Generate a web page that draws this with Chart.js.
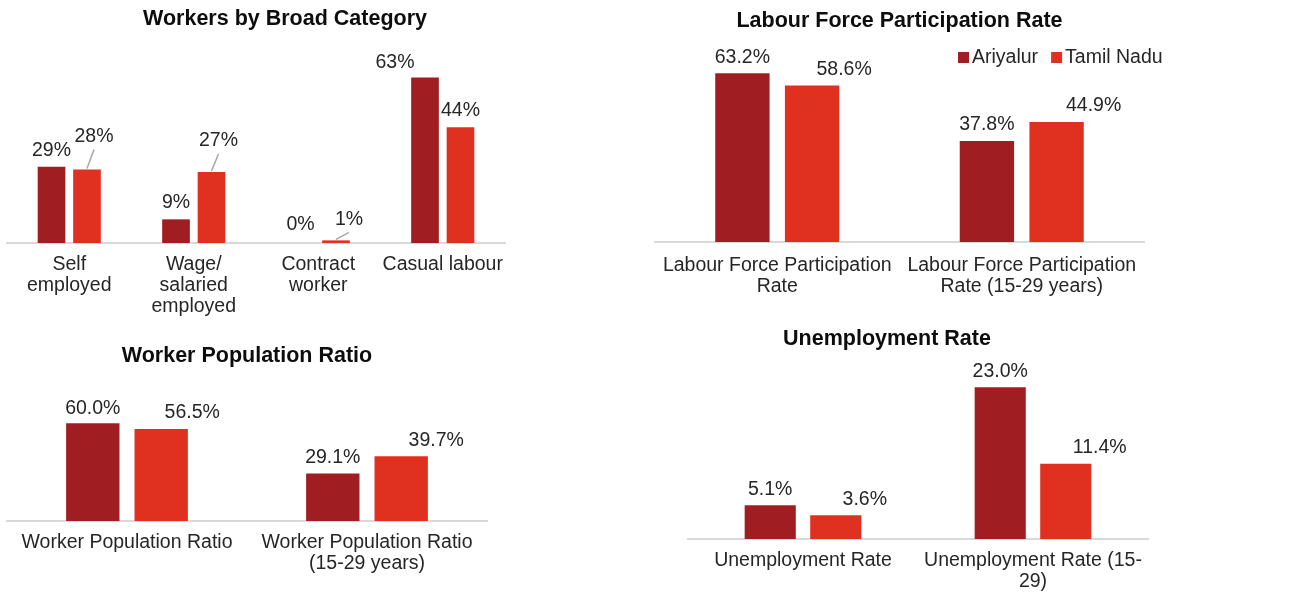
<!DOCTYPE html>
<html>
<head>
<meta charset="utf-8">
<script src="https://cdn.jsdelivr.net/npm/chart.js@4.4.1/dist/chart.umd.min.js"></script>
<style>
  body { margin: 0; background: #fff; }
  #wrap { position: relative; width: 1298px; height: 592px; overflow: hidden; }
  canvas { position: absolute; }
</style>
</head>
<body>
<div id="wrap">
  <canvas id="broad" width="520" height="322" style="left:0;top:0"></canvas>
  <canvas id="lfpr" width="658" height="312" style="left:640px;top:0"></canvas>
  <canvas id="wpr" width="520" height="261" style="left:0;top:330px"></canvas>
  <canvas id="ur" width="658" height="272" style="left:640px;top:320px"></canvas>
</div>
<script>
const seriesNames = ["Ariyalur", "Tamil Nadu"];

const broadCategories = [["Self", "employed"], ["Wage/", "salaried", "employed"], ["Contract", "worker"], "Casual labour"];
const broadAriyalur = [29, 9, 0, 63];
const broadTamilNadu = [28, 27, 1, 44];

const lfprCategories = [["Labour Force Participation", "Rate"], ["Labour Force Participation", "Rate (15-29 years)"]];
const lfprAriyalur = [63.2, 37.8];
const lfprTamilNadu = [58.6, 44.9];

const wprCategories = ["Worker Population Ratio", ["Worker Population Ratio", "(15-29 years)"]];
const wprAriyalur = [60.0, 29.1];
const wprTamilNadu = [56.5, 39.7];

const urCategories = ["Unemployment Rate", ["Unemployment Rate (15-", "29)"]];
const urAriyalur = [5.1, 23.0];
const urTamilNadu = [3.6, 11.4];

const DARK = "#a01e21";
const RED = "#e03120";
const FONT = '"Liberation Sans", Arial, sans-serif';

Chart.defaults.font.family = FONT;

// draws title, value labels (with optional leader lines) and the legend
const annotate = {
  id: "annotate",
  afterDraw(chart, args, opts) {
    const ctx = chart.ctx;
    const area = chart.chartArea;
    ctx.save();
    ctx.textAlign = "center";
    ctx.textBaseline = "middle";

    ctx.font = "bold 21.5px " + FONT;
    ctx.fillStyle = "#0d0d0d";
    ctx.fillText(opts.title, (area.left + area.right) / 2 + opts.titleDx, opts.titleY);

    ctx.font = "19.5px " + FONT;
    chart.data.datasets.forEach((ds, i) => {
      const meta = chart.getDatasetMeta(i);
      meta.data.forEach((bar, j) => {
        const off = opts.offsets[i][j];
        const x = bar.x + off[0];
        const y = bar.y - off[1];
        if (off[2]) {
          ctx.strokeStyle = "#a6a6a6";
          ctx.lineWidth = 1.5;
          ctx.beginPath();
          ctx.moveTo(x, y + 13);
          ctx.lineTo(bar.x, bar.y - 1);
          ctx.stroke();
        }
        ctx.fillStyle = "#262626";
        ctx.fillText(ds.data[j].toFixed(opts.decimals) + "%", x, y);
      });
    });

    if (opts.legend) {
      let lx = opts.legend.x;
      const ly = opts.legend.y;
      ctx.textAlign = "left";
      chart.data.datasets.forEach((ds) => {
        ctx.fillStyle = ds.backgroundColor;
        ctx.fillRect(lx, ly - 6, 11, 11);
        ctx.fillStyle = "#262626";
        ctx.fillText(ds.label, lx + 14, ly);
        lx += 14 + ctx.measureText(ds.label).width + 13;
      });
    }
    ctx.restore();
  },
};

function drawBars(id, categories, ariyalur, tamilNadu, look) {
  new Chart(document.getElementById(id), {
    type: "bar",
    data: {
      labels: categories,
      datasets: [
        { label: seriesNames[0], data: ariyalur, backgroundColor: DARK, categoryPercentage: 0.57, barPercentage: 0.78 },
        { label: seriesNames[1], data: tamilNadu, backgroundColor: RED, categoryPercentage: 0.57, barPercentage: 0.78 },
      ],
    },
    options: {
      responsive: false,
      animation: false,
      layout: { padding: look.padding },
      plugins: {
        legend: { display: false },
        tooltip: { enabled: false },
        annotate: look.notes,
      },
      scales: {
        x: {
          grid: { display: false, drawTicks: false },
          border: { display: true, color: "#d9d9d9", width: 2 },
          ticks: {
            color: "#262626",
            font: { size: 19.5, lineHeight: 1.07 },
            padding: look.tickPad,
            maxRotation: 0,
            autoSkip: false,
          },
          afterFit: (scale) => {
            scale.height = look.axisHeight;
          },
        },
        y: { display: false, min: 0, max: look.max },
      },
    },
    plugins: [annotate],
  });
}

drawBars("broad", broadCategories, broadAriyalur, broadTamilNadu, {
  padding: { left: 7, right: 15, top: 59, bottom: 0 },
  axisHeight: 79,
  tickPad: 11,
  max: 70,
  notes: {
    title: "Workers by Broad Category",
    titleDx: 29,
    titleY: 19,
    decimals: 0,
    offsets: [
      [[0, 16], [0, 17], [0, 18], [-30, 15]],
      [[7, 33, true], [7, 31, true], [13, 21, true], [0, 17]],
    ],
  },
});

drawBars("lfpr", lfprCategories, lfprAriyalur, lfprTamilNadu, {
  padding: { left: 15, right: 154, top: 55, bottom: 0 },
  axisHeight: 70,
  tickPad: 13,
  max: 70,
  notes: {
    title: "Labour Force Participation Rate",
    titleDx: 0,
    titleY: 21,
    decimals: 1,
    offsets: [
      [[0, 16], [0, 16]],
      [[32, 16], [37, 16]],
    ],
    legend: { x: 318, y: 58 },
  },
});

drawBars("wpr", wprCategories, wprAriyalur, wprTamilNadu, {
  padding: { left: 7, right: 33, top: 77, bottom: 0 },
  axisHeight: 70,
  tickPad: 11,
  max: 70,
  notes: {
    title: "Worker Population Ratio",
    titleDx: 0,
    titleY: 26,
    decimals: 1,
    offsets: [
      [[0, 15], [0, 16]],
      [[31, 16], [35, 16]],
    ],
  },
});

drawBars("ur", urCategories, urAriyalur, urTamilNadu, {
  padding: { left: 48, right: 150, top: 21, bottom: 0 },
  axisHeight: 53,
  tickPad: 11,
  max: 30,
  notes: {
    title: "Unemployment Rate",
    titleDx: -31,
    titleY: 19,
    decimals: 1,
    offsets: [
      [[0, 16], [0, 16]],
      [[29, 16], [34, 16]],
    ],
  },
});
</script>
</body>
</html>
